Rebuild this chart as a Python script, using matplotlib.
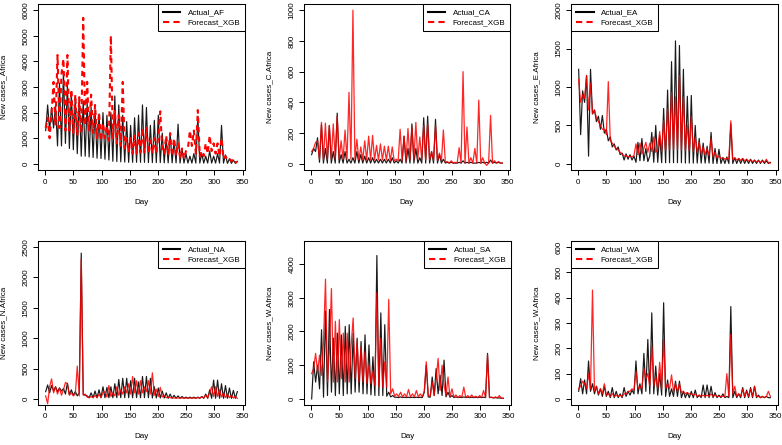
import numpy as np
import matplotlib
matplotlib.use("Agg")
import matplotlib.pyplot as plt
from matplotlib.lines import Line2D

plt.rcParams['font.family'] = ['Liberation Sans', 'DejaVu Sans']

# ---------------- data (one point every 3.5 days) ----------------
day = np.arange(1, 342, 3.5)

act_af = [1300, 2300, 1300, 2200, 1400, 2300, 700, 3150, 700, 3600,
          800, 3100, 600, 2800, 550, 2600, 400, 2600, 300, 2450,
          300, 2400, 270, 2200, 250, 2100, 220, 1950, 210, 2000,
          180, 1900, 150, 2000, 100, 2650, 90, 2300, 80, 1900,
          70, 1650, 60, 1500, 60, 1800, 60, 1900, 60, 2300,
          60, 2200, 50, 1500, 50, 1700, 50, 1900, 50, 1200,
          40, 1000, 40, 1200, 40, 900, 40, 1550, 30, 600,
          30, 400, 30, 300, 30, 400, 30, 1850, 30, 400,
          30, 300, 30, 500, 30, 300, 30, 400, 30, 1500,
          30, 350, 20, 200, 20, 150, 20, 100]
fc_af = [1400, 1800, 1000, 2000, 3200, 1500, 4250, 1400, 3500, 4100,
         1300, 4250, 1300, 2900, 1200, 2700, 1100, 2600, 1200, 5700,
         1500, 3200, 1300, 2700, 1200, 2300, 1000, 2000, 900, 1600,
         1000, 1500, 900, 5000, 1000, 2100, 800, 1900, 700, 3200,
         600, 1000, 450, 1000, 400, 1100, 400, 1200, 450, 1400,
         450, 1400, 400, 900, 400, 1000, 400, 1100, 2050, 500,
         400, 1100, 350, 1200, 300, 1000, 300, 800, 250, 600,
         200, 500, 600, 1300, 700, 1300, 400, 2100, 300, 500,
         300, 800, 400, 1100, 500, 800, 400, 800, 300, 1000,
         200, 300, 150, 200, 100, 200, 80, 50]

act_ca = [60, 100, 80, 170, 10, 255, 5, 100, 5, 250,
          5, 80, 5, 330, 5, 60, 5, 80, 5, 30,
          5, 40, 5, 80, 5, 60, 5, 50, 5, 40,
          5, 40, 5, 30, 5, 30, 5, 30, 5, 30,
          5, 40, 5, 20, 5, 30, 5, 180, 5, 100,
          5, 260, 5, 100, 5, 40, 5, 300, 5, 310,
          5, 80, 5, 290, 5, 60, 5, 30, 5, 10,
          5, 10, 5, 5, 5, 10, 5, 20, 5, 10,
          5, 10, 5, 5, 5, 10, 5, 10, 5, 10,
          5, 25, 5, 10, 5, 10, 5, 5]
fc_ca = [80, 100, 140, 150, 30, 270, 25, 265, 30, 250,
         30, 260, 30, 310, 30, 150, 30, 220, 30, 465,
         30, 1000, 30, 160, 25, 110, 25, 150, 25, 180,
         25, 185, 25, 120, 25, 130, 25, 115, 25, 115,
         20, 110, 20, 30, 20, 225, 20, 180, 20, 230,
         25, 240, 25, 270, 30, 175, 25, 250, 25, 260,
         25, 80, 25, 250, 20, 70, 20, 220, 10, 15,
         5, 20, 5, 10, 5, 105, 5, 600, 5, 240,
         5, 40, 5, 100, 5, 415, 5, 40, 5, -10,
         5, 315, 5, 20, 5, 15, 5, 5]

act_ea = [1230, 380, 950, 800, 1150, 100, 1230, 650, 700, 550,
          620, 450, 630, 400, 450, 300, 350, 220, 260, 180,
          220, 120, 140, 50, 130, 60, 120, 50, 100, 20,
          280, 40, 330, 40, 200, 30, 100, 410, 20, 500,
          20, 370, 15, 720, 15, 960, 15, 1330, 15, 1600,
          15, 1540, 15, 1230, 10, 880, 10, 890, 10, 500,
          10, 330, 10, 270, 10, 230, 10, 410, 5, 200,
          5, 190, 5, 80, 5, 90, 5, 520, 5, 80,
          5, 70, 5, 70, 5, 60, 5, 60, 5, 50,
          5, 50, 5, 50, 5, 40, 5, 20]
fc_ea = [1100, 800, 900, 850, 1150, 700, 1050, 650, 700, 600,
         550, 500, 450, 450, 380, 1070, 300, 270, 230, 200,
         180, 150, 130, 100, 110, 90, 100, 90, 110, 260,
         120, 270, 130, 200, 280, 150, 270, 160, 350, 150,
         200, 420, 160, 560, 170, 720, 180, 930, 180, 870,
         180, 1150, 180, 870, 170, 500, 170, 620, 160, 350,
         150, 280, 130, 220, 120, 200, 110, 330, 90, 150,
         80, 100, 70, 80, 60, 70, 60, 560, 50, 80,
         50, 70, 45, 70, 40, 60, 35, 50, 30, 45,
         25, 40, 20, 35, 20, 60, 15, 10]

act_na = [120, 230, 100, 220, 130, 200, 120, 180, 130, 170,
          80, 260, 70, 150, 60, 120, 50, 100, 2400, 80,
          60, 50, 20, 100, 20, 130, 20, 150, 20, 200,
          20, 190, 20, 200, 20, 250, 20, 320, 20, 340,
          20, 340, 20, 300, 20, 340, 20, 280, 20, 370,
          20, 370, 20, 340, 15, 200, 15, 180, 15, 130,
          15, 100, 10, 80, 10, 60, 10, 50, 10, 40,
          10, 30, 10, 30, 10, 30, 10, 30, 10, 40,
          10, 80, 10, 150, 10, 310, 10, 310, 10, 250,
          10, 220, 10, 180, 10, 140, 10, 120]
fc_na = [50, -80, 200, 330, 100, 200, 80, 180, 60, 150,
         270, 250, 60, 100, 50, 80, 540, 50, 2300, 60,
         80, 30, 20, 40, 20, 60, 20, 80, 20, 100,
         120, 30, 220, 40, 100, 50, 200, 60, 150, 80,
         200, 100, 250, 80, 370, 100, 300, 80, 300, 100,
         200, 120, 300, 80, 430, 60, 160, 40, 190, 30,
         60, 20, 30, 20, 20, 15, 15, 15, 15, 15,
         15, 15, 15, 15, 15, 15, 15, 20, 15, 30,
         20, 60, 20, 100, 200, 40, 200, 40, 150, 30,
         100, 20, 80, 20, 60, 15, 40, 10]

act_sa = [0, 1100, 500, 1000, 300, 2050, 50, 2600, 100, 2650,
          200, 1800, 100, 1950, 150, 1900, 100, 2150, 150, 2200,
          150, 1950, 200, 1800, 200, 1700, 150, 1900, 150, 1600,
          120, 1250, 100, 4250, 100, 2550, 100, 2200, 80, 200,
          60, 100, 50, 50, 40, 60, 40, 50, 40, 50,
          40, 50, 40, 50, 40, 50, 40, 200, 1000, 60,
          50, 650, 100, 900, 150, 700, 100, 1150, 60, 200,
          50, 100, 40, 60, 40, 50, 40, 60, 40, 50,
          40, 50, 40, 50, 40, 50, 40, 50, 40, 1350,
          40, 50, 30, 40, 30, 30, 20, 20]
fc_sa = [750, 900, 1350, 800, 1300, 700, 1700, 3550, 500, 1500,
         3270, 500, 2300, 500, 2350, 600, 1950, 500, 1950, 500,
         1600, 2400, 600, 1700, 500, 1550, 500, 1400, 450, 1000,
         450, 800, 400, 3150, 350, 1800, 350, 1100, 350, 2950,
         150, 300, 80, 150, 70, 200, 60, 150, 60, 280,
         60, 150, 60, 250, 60, 150, 60, 230, 1100, 100,
         80, 500, 100, 600, 1200, 250, 1000, 400, 100, 650,
         60, 300, 50, 120, 40, 100, 50, 350, 40, 100,
         40, 120, 40, 80, 40, 100, 40, 250, 40, 1300,
         40, 50, 30, 60, 30, 100, 20, 20]

act_wa = [30, 80, 20, 75, 20, 150, 30, 60, 20, 50,
          15, 40, 10, 50, 10, 30, 5, 45, 5, 30,
          5, 20, 5, 45, 10, 30, 15, 35, 20, 150,
          20, 60, 20, 180, 30, 235, 20, 340, 20, 130,
          15, 100, 15, 380, 10, 75, 10, 40, 10, 70,
          10, 70, 5, 30, 5, 25, 5, 30, 5, 35,
          5, 15, 5, 55, 5, 55, 5, 50, 5, 25,
          5, 15, 5, 20, 5, 10, 5, 365, 5, 30,
          5, 20, 5, 45, 5, 35, 5, 45, 5, 50,
          5, 15, 5, 10, 5, 10, 5, 5]
fc_wa = [40, 50, 70, 60, 40, 100, 40, 430, 30, 50,
         20, 40, 20, 60, 15, 20, 10, 20, 10, 15,
         10, 15, 10, 20, 20, 30, 30, 40, 35, 110,
         40, 50, 40, 120, 80, 100, 50, 210, 50, 90,
         40, 145, 40, 235, 40, 60, 40, 95, 30, 60,
         30, 60, 25, 30, 20, 25, 20, 20, 15, 20,
         10, 15, 10, 15, 10, 15, 10, 20, 10, 15,
         10, 10, 10, 10, 10, 100, 10, 255, 20, 50,
         10, 20, 10, 40, 10, 30, 10, 40, 10, 50,
         10, 10, 5, 10, 5, 10, 30, 10]

series_actual = [act_af, act_ca, act_ea, act_na, act_sa, act_wa]
series_fc = [fc_af, fc_ca, fc_ea, fc_na, fc_sa, fc_wa]
actual_labels = ["Actual_AF", "Actual_CA", "Actual_EA", "Actual_NA", "Actual_SA", "Actual_WA"]
forecast_label = "Forecast_XGB"
ylabels = ["New cases_Africa", "New cases_C.Africa", "New cases_E.Africa",
           "New cases_N.Africa", "New cases_W.Africa", "New cases_W.Africa"]
ymax = [6000, 1000, 2000, 2500, 4500, 600]
ystep = [1000, 200, 500, 500, 1000, 100]
xticks = [0, 50, 100, 150, 200, 250, 300, 350]
legend_loc = ["upper right", "upper right", "upper left", "upper right", "upper right", "upper left"]

# ---------------- layout ----------------
W, H = 782, 445
fig = plt.figure(figsize=(W / 100, H / 100), dpi=100)
boxes = [(38, 4, 245, 170), (304, 4, 510, 170), (571, 4, 778, 170),
         (38, 241, 245, 405), (304, 241, 511, 405), (571, 241, 778, 405)]
FS = 5.8
px = 72 / 100  # points per pixel

for k in range(6):
    l, t, r, b = boxes[k]
    ax = fig.add_axes([l / W, 1 - b / H, (r - l) / W, (b - t) / H])
    a = np.array(series_actual[k], dtype=float)
    f = np.array(series_fc[k], dtype=float)
    ax.plot(day, a, color='black', lw=0.85, alpha=0.9, zorder=2)
    if k == 0:
        ax.plot(day, f, color='#ff0000', lw=1.5, dashes=(2.5, 2), zorder=3)
    else:
        ax.plot(day, f, color='#ff0000', lw=0.9, alpha=0.85, zorder=3)

    x0, x1 = day.min(), day.max()
    ax.set_xlim(x0 - 0.04 * (x1 - x0), x1 + 0.04 * (x1 - x0))
    ax.set_ylim(-0.04 * ymax[k], 1.04 * ymax[k])
    ax.set_xticks(xticks)
    ax.set_yticks(np.arange(0, ymax[k] + 1, ystep[k]))
    ax.tick_params(direction='out', length=5 * px, width=0.7, labelsize=FS,
                   pad=3.5 * px, colors='black')
    for lab in ax.get_yticklabels():
        lab.set_rotation(90)
        lab.set_va('center')
    for s in ax.spines.values():
        s.set_linewidth(0.75)
        s.set_color('black')

    ax.annotate("Day", (0.5, 0), xycoords='axes fraction', xytext=(0, -32 * px),
                textcoords='offset points', ha='center', va='center', fontsize=FS)
    ax.annotate(ylabels[k], (0, 0.5), xycoords='axes fraction', xytext=(-34 * px, 0),
                textcoords='offset points', ha='center', va='center', rotation=90,
                fontsize=FS)

    handles = [Line2D([], [], color='black', lw=1.5),
               Line2D([], [], color='#ff0000', lw=1.5, dashes=(3, 2))]
    leg = ax.legend(handles, [actual_labels[k], forecast_label], loc=legend_loc[k],
                    fontsize=FS, frameon=True, fancybox=False, edgecolor='black',
                    framealpha=1, borderaxespad=0, handlelength=2.2,
                    handletextpad=0.9, borderpad=0.6, labelspacing=0.3)
    leg.get_frame().set_linewidth(0.75)

fig.savefig("out.png", dpi=100)
